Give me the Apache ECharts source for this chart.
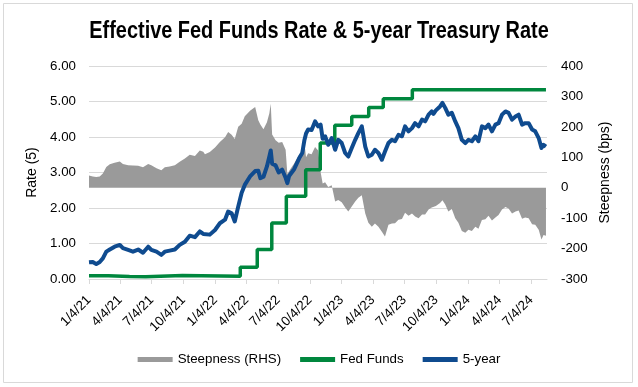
<!DOCTYPE html>
<html><head><meta charset="utf-8">
<script src="https://cdn.jsdelivr.net/npm/echarts@6/dist/echarts.min.js"></script>
<style>html,body{margin:0;padding:0;background:#fff}#c{width:638px;height:387px}</style>
</head><body><div id="c"></div>
<script>
// Observation dates shared by the 5-year yield and the steepness series
const dates = [
'2021-01-04','2021-01-15','2021-01-25','2021-02-04','2021-02-13','2021-02-23','2021-03-05','2021-03-19','2021-04-03','2021-04-12','2021-04-27','2021-05-11','2021-05-26','2021-06-09','2021-06-24','2021-07-03','2021-07-18','2021-08-01','2021-08-11','2021-08-25','2021-09-09','2021-09-23','2021-10-08','2021-10-22','2021-11-06','2021-11-20','2021-11-30','2021-12-05','2021-12-19',
'2022-01-03','2022-01-17','2022-02-01','2022-02-10','2022-02-20','2022-03-01','2022-03-11','2022-03-21','2022-03-30','2022-04-15','2022-04-29','2022-05-08','2022-05-14','2022-05-23','2022-06-02','2022-06-09','2022-06-13','2022-06-17','2022-06-27','2022-07-06','2022-07-16','2022-07-26','2022-07-31','2022-08-05','2022-08-20','2022-09-03','2022-09-12','2022-09-18','2022-09-23','2022-09-29','2022-10-09','2022-10-19','2022-10-28','2022-11-04','2022-11-10','2022-11-17','2022-11-26','2022-12-06','2022-12-16','2022-12-25',
'2023-01-04','2023-01-14','2023-01-23','2023-02-02','2023-02-12','2023-02-21','2023-03-03','2023-03-13','2023-03-22','2023-04-01','2023-04-10','2023-04-20','2023-04-30','2023-05-09','2023-05-19','2023-05-29','2023-06-07','2023-06-17','2023-06-27','2023-07-06','2023-07-16','2023-07-26','2023-08-04','2023-08-14','2023-08-24','2023-09-02','2023-09-12','2023-09-21','2023-09-26','2023-10-03','2023-10-06','2023-10-15','2023-10-22','2023-10-30','2023-11-08','2023-11-18','2023-11-28','2023-12-07','2023-12-17','2023-12-27',
'2024-01-05','2024-01-15','2024-01-25','2024-02-03','2024-02-13','2024-02-23','2024-03-03','2024-03-13','2024-03-23','2024-04-01','2024-04-11','2024-04-21','2024-04-30','2024-05-10','2024-05-20','2024-05-29','2024-06-08','2024-06-17','2024-06-27','2024-07-07','2024-07-16','2024-07-26','2024-08-03','2024-08-09','2024-08-16'
];
// 5-year Treasury rate (%)
const fiveYear = [
0.47,0.48,0.42,0.48,0.58,0.77,0.83,0.91,0.96,0.87,0.82,0.77,0.83,0.74,0.91,0.82,0.77,0.68,0.77,0.80,0.83,0.96,1.05,1.22,1.18,1.34,1.27,1.22,1.25,
1.38,1.57,1.67,1.90,1.85,1.62,2.04,2.43,2.65,2.90,3.04,3.05,2.84,2.88,3.17,3.45,3.62,3.25,3.20,3.00,3.08,2.85,2.70,2.90,3.10,3.40,3.55,3.90,4.10,4.21,4.20,4.44,4.30,4.35,3.95,4.02,3.78,3.97,3.64,3.92,
3.83,3.55,3.45,3.69,3.92,4.11,4.30,3.73,3.45,3.50,3.64,3.55,3.36,3.59,3.83,3.92,3.88,4.06,4.02,4.30,4.16,4.25,4.39,4.30,4.49,4.44,4.63,4.72,4.65,4.75,4.77,4.86,4.96,4.82,4.63,4.68,4.44,4.25,3.92,3.83,
3.92,3.88,4.02,3.88,4.30,4.25,4.35,4.16,4.35,4.39,4.63,4.72,4.68,4.49,4.58,4.63,4.35,4.39,4.39,4.21,4.16,3.97,3.69,3.78,3.73
];
// Steepness (bps, right axis)
const steepness = [
40,37,35,37,47,68,77,82,86,78,74,73,72,67,78,74,64,57,67,70,74,85,96,108,104,122,118,110,117,
132,150,166,183,174,160,200,210,235,254,265,222,208,192,215,245,276,175,156,148,150,125,45,55,80,108,120,150,100,113,110,134,122,52,14,18,2,8,-45,-40,
-48,-65,-78,-62,-45,-33,-25,-85,-115,-128,-118,-128,-145,-160,-122,-118,-117,-105,-103,-82,-92,-85,-95,-100,-88,-88,-72,-65,-68,-60,-58,-50,-41,-55,-78,-70,-100,-115,-142,-148,
-138,-142,-128,-135,-106,-104,-92,-108,-98,-90,-72,-63,-68,-85,-78,-75,-102,-98,-100,-120,-122,-138,-170,-155,-158
];
// Effective Fed Funds rate (%), value from each change date
const fedDates = ['2021-01-04','2021-03-01','2021-05-01','2021-06-17','2021-10-01','2022-03-17','2022-05-05','2022-06-16','2022-07-28','2022-09-22','2022-11-03','2022-12-15','2023-02-02','2023-03-23','2023-05-04','2023-07-27','2024-08-16'];
const fedValues = [0.09,0.07,0.06,0.10,0.08,0.33,0.83,1.58,2.33,3.08,3.83,4.33,4.58,4.83,5.08,5.33,5.33];
// x-axis ticks
const tickDates = ['2021-01-04','2021-04-04','2021-07-04','2021-10-04','2022-01-04','2022-04-04','2022-07-04','2022-10-04','2023-01-04','2023-04-04','2023-07-04','2023-10-04','2024-01-04','2024-04-04','2024-07-04'];
const tickLabels = ['1/4/21','4/4/21','7/4/21','10/4/21','1/4/22','4/4/22','7/4/22','10/4/22','1/4/23','4/4/23','7/4/23','10/4/23','1/4/24','4/4/24','7/4/24'];
const titleText = 'Effective Fed Funds Rate & 5-year Treasury Rate';

const toTs = s => { const p = s.split('-').map(Number); return Date.UTC(p[0], p[1]-1, p[2]); };
const tickTs = tickDates.map(toTs);
const font = '"Liberation Sans", Arial, sans-serif';
const chart = echarts.init(document.getElementById('c'), null, {renderer:'canvas'});
chart.setOption({
  animation:false,
  textStyle:{fontFamily:font},
  graphic:[
    {type:'rect', silent:true, shape:{x:3.5,y:3.5,width:629,height:379}, style:{fill:null, stroke:'#d9d9d9', lineWidth:1}},
    {type:'text', silent:true, x:319, y:31, scaleX:0.83, scaleY:1,
     style:{text:titleText, fill:'#000', font:'bold 24px "Liberation Sans", Arial, sans-serif', align:'center', verticalAlign:'middle'}}
  ],
  grid:{left:89, right:91, top:66, bottom:108},
  legend:{top:348, left:'center', itemWidth:35, itemHeight:5, itemGap:19, icon:'rect',
    textStyle:{fontSize:13.3, color:'#000', fontFamily:font},
    data:['Steepness (RHS)','Fed Funds','5-year']},
  xAxis:{type:'value', min:toTs('2021-01-04'), max:toTs('2024-08-19'),
    axisLine:{lineStyle:{color:'#d9d9d9'}},
    axisTick:{customValues:tickTs, length:5, lineStyle:{color:'#d9d9d9'}},
    axisLabel:{customValues:tickTs, rotate:45, color:'#000', fontSize:13.3, margin:19,
      formatter:v => { const i = tickTs.indexOf(v); return i >= 0 ? tickLabels[i] : ''; }},
    splitLine:{show:false}},
  yAxis:[
    {type:'value', min:0, max:6, interval:1, position:'left',
     name:'Rate (5)', nameLocation:'middle', nameGap:43, nameRotate:90,
     nameTextStyle:{fontSize:14, color:'#000'},
     axisLabel:{formatter:v => v.toFixed(2), color:'#000', fontSize:13.3, margin:13},
     splitLine:{lineStyle:{color:'#d9d9d9'}}, axisLine:{show:false}, axisTick:{show:false}},
    {type:'value', min:-300, max:400, interval:100, position:'right',
     name:'Steepness (bps)', nameLocation:'middle', nameGap:48, nameRotate:90,
     nameTextStyle:{fontSize:14, color:'#000'},
     axisLabel:{color:'#000', fontSize:13.3, margin:14},
     splitLine:{show:false}, axisLine:{show:false}, axisTick:{show:false}}
  ],
  series:[
    {name:'Steepness (RHS)', type:'line', yAxisIndex:1, symbol:'none', color:'#9a9a9a', z:1,
     lineStyle:{width:0}, areaStyle:{color:'#9a9a9a', opacity:1},
     data:dates.map((d,i) => [toTs(d), steepness[i]])},
    {name:'Fed Funds', type:'line', step:'end', symbol:'none', color:'#00873e', z:2,
     lineStyle:{width:3.5, color:'#00873e'},
     data:fedDates.map((d,i) => [toTs(d), fedValues[i]])},
    {name:'5-year', type:'line', symbol:'none', color:'#0f4b8f', z:3,
     lineStyle:{width:4, color:'#0f4b8f', join:'round'},
     data:dates.map((d,i) => [toTs(d), fiveYear[i]])}
  ]
});
</script></body></html>
